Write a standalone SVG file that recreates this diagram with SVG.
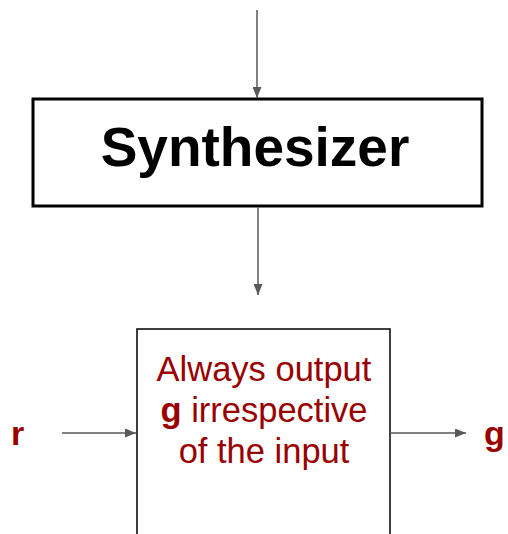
<svg xmlns="http://www.w3.org/2000/svg" width="508" height="534" viewBox="0 0 508 534">
  <defs>
    <marker id="arrow" viewBox="0 0 11 9" refX="11" refY="4.5" markerWidth="11" markerHeight="9" markerUnits="userSpaceOnUse" orient="auto">
      <path d="M0,0 L11,4.5 L0,9 Z" fill="#595959"/>
    </marker>
  </defs>
  <style>
    .conn { stroke: #595959; stroke-width: 1.5; fill: none; marker-end: url(#arrow); }
    .title { font-family: "Liberation Sans", Arial, sans-serif; font-weight: bold; font-size: 55px; fill: #000; }
    .desc { font-family: "Liberation Sans", Arial, sans-serif; font-size: 34.5px; fill: #990000; }
    .sig { font-family: "Liberation Sans", Arial, sans-serif; font-weight: bold; font-size: 34px; fill: #990000; }
  </style>

  <g id="synthesizer">
    <rect x="33" y="99" width="449" height="107" fill="#fff" stroke="#000" stroke-width="3"/>
    <text class="title" x="255" y="166" text-anchor="middle">Synthesizer</text>
  </g>

  <g id="generator">
    <rect x="137" y="329" width="253" height="215" fill="#fff" stroke="#000" stroke-width="1.5"/>
    <!-- lines kept without whitespace between tspans so each chunk centres exactly -->
    <text class="desc" text-anchor="middle"><tspan x="264" y="381">Always output</tspan><tspan x="264" y="422"><tspan font-weight="bold">g</tspan> irrespective</tspan><tspan x="264" y="463">of the input</tspan></text>
  </g>

  <g id="input-r">
    <text class="sig" x="11" y="445">r</text>
  </g>

  <g id="output-g">
    <text class="sig" x="484" y="445">g</text>
  </g>

  <g id="connectors">
    <line class="conn" x1="257" y1="10" x2="257" y2="98"/>
    <line class="conn" x1="258" y1="207" x2="258" y2="295"/>
    <line class="conn" x1="62" y1="433" x2="136" y2="433"/>
    <line class="conn" x1="390" y1="433" x2="466" y2="433"/>
  </g>
</svg>
